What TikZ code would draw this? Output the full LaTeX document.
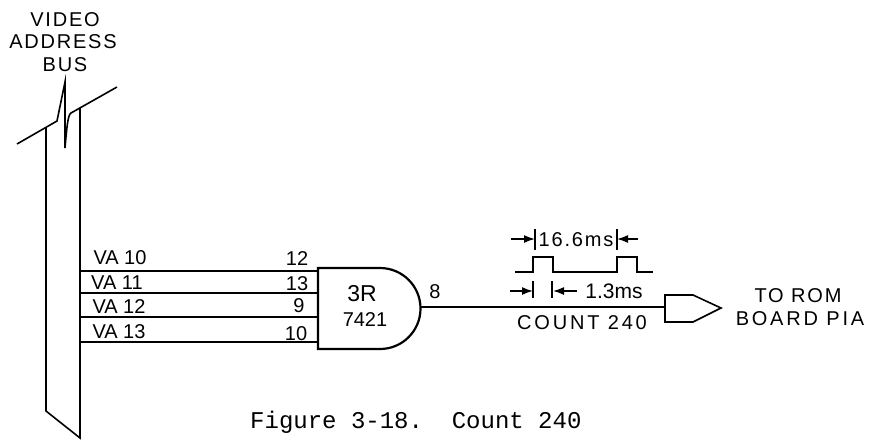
\documentclass[tikz,border=0pt]{standalone}
\usepackage{fontspec}
\usetikzlibrary{arrows.meta}
\setmainfont{Liberation Sans}
\newfontfamily\wideletters{Liberation Sans}[LetterSpace=9]
\newfontfamily\widerletters{Liberation Sans}[LetterSpace=14]
\newfontfamily\typewriter{Liberation Mono}
\tikzset{
  wire/.style={line width=1.6pt},
  lbl/.style={inner sep=0pt, font=\fontsize{20}{24}\selectfont, text height=14.5pt, text depth=0pt},
  widelbl/.style={lbl, font=\fontsize{20}{24}\selectfont\wideletters},
  widerlbl/.style={lbl, font=\fontsize{20}{24}\selectfont\widerletters},
  dim/.style={line width=1.5pt, -{Latex[length=11pt,width=8pt]}},
}

\begin{document}
\begin{tikzpicture}[x=1pt,y=-1pt]
\useasboundingbox (0,0) rectangle (870,440);
\fill[white] (0,0) rectangle (870,440);

\node[widelbl] (title1) at (65,19) {VIDEO};
\node[widelbl] (title2) at (63,41) {ADDRESS};
\node[widelbl] (title3) at (65,64) {BUS};

% Bus outline
\draw[wire] (17,144) -- (57,121) -- (65,82) -- (65,148) .. controls (67,125) and (68,115) .. (71,113) -- (117,87);
\draw[wire] (46,128) -- (46,411) -- (80,438) -- (80,108);

% Gate body
\draw[line width=2.2pt] (318,268) -- (380,268) arc[start angle=-90, end angle=90, radius=40.5] -- (318,349) -- cycle;
\node[lbl, font=\fontsize{23}{27}\selectfont, text height=16.5pt] (gatename) at (362,293) {3R};
\node[lbl] (gatetype) at (365,319) {7421};

\coordinate (in1) at (318,271);
\coordinate (in2) at (318,293);
\coordinate (in3) at (318,317);
\coordinate (in4) at (318,342);
\coordinate (bus1) at (80,271);
\coordinate (bus2) at (80,293);
\coordinate (bus3) at (80,317);
\coordinate (bus4) at (80,342);
\coordinate (out) at (421,307);

\draw[wire] (bus1) -- (in1); % VA 10
\draw[wire] (bus2) -- (in2); % VA 11
\draw[wire] (bus3) -- (in3); % VA 12
\draw[wire] (bus4) -- (in4); % VA 13

\node[lbl] (va10) at (120,257) {VA 10};
\node[lbl] (va11) at (117,282) {VA 11};
\node[lbl] (va12) at (119,306) {VA 12};
\node[lbl] (va13) at (119,331) {VA 13};

\node[lbl] (pin12) at (297,258) {12};
\node[lbl] (pin13) at (297,283) {13};
\node[lbl] (pin9) at (299,305) {9};
\node[lbl] (pin10) at (296,333) {10};
\node[lbl] (pin8) at (435,291) {8};

% Off-page connector
\coordinate (conn) at (665,307);
\draw[wire] (out) -- (conn);
\draw[wire] (665,295) -- (693,295) -- (721,308) -- (693,322) -- (665,322) -- cycle;

% Pulse train
\draw[wire] (515,272) -- (533,272) -- (533,257) -- (553,257) -- (553,272) -- (617,272) -- (617,257) -- (637,257) -- (637,272) -- (653,272);

% Timing marks
\coordinate (t1) at (535,239);
\coordinate (t2) at (617,239);
\coordinate (w1) at (533,291);
\coordinate (w2) at (553,291);
\draw[line width=1.2pt] (535,229) -- (535,250);
\draw[line width=1.2pt] (617,229) -- (617,250);
\draw[line width=1.2pt] (533,281) -- (533,298);
\draw[line width=1.2pt] (552,281) -- (552,298);
\draw[dim] (511,239) -- (t1);
\draw[dim] (638,239) -- (t2);
\node[widelbl] (period) at (576,239) {16.6ms};
\draw[dim] (510,291) -- (w1);
\draw[dim] (577,291) -- (w2);
\node[lbl, font=\fontsize{21}{25}\selectfont] (width) at (614,291) {1.3ms};
\node[widerlbl] (count) at (582,322) {COUNT 240};

\node[widelbl] (dest1) at (798,295) {TO ROM};
\node[widerlbl] (dest2) at (800,318) {BOARD PIA};

\node[inner sep=0pt, anchor=base west, font=\fontsize{24}{28}\selectfont\typewriter] (caption) at (250,428) {Figure 3-18.\ \ Count 240};
\end{tikzpicture}
\end{document}
